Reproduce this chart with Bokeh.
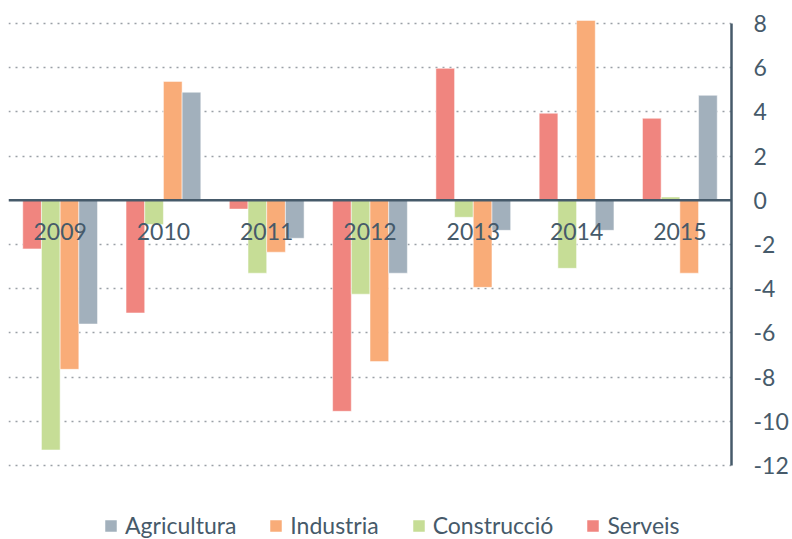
from bokeh.plotting import figure
from bokeh.models import (ColumnDataSource, FactorRange, Range1d, FixedTicker, Span,
                          Legend, LegendItem, LinearAxis, NumeralTickFormatter)
from bokeh.transform import dodge
from bokeh.core.properties import value
from bokeh.embed import file_html
from bokeh.resources import INLINE

years = ["2009", "2010", "2011", "2012", "2013", "2014", "2015"]
serveis = [-2.2, -5.1, -0.4, -9.55, 5.97, 3.94, 3.71]
construccio = [-11.3, -1.1, -3.3, -4.25, -0.77, -3.08, 0.15]
industria = [-7.65, 5.38, -2.35, -7.3, -3.94, 8.14, -3.3]
agricultura = [-5.6, 4.89, -1.72, -3.3, -1.36, -1.36, 4.75]
y_ticks = [-12, -10, -8, -6, -4, -2, 0, 2, 4, 6, 8]

series_names = ["Serveis", "Construcció", "Industria", "Agricultura"]
colors = {"Serveis": "#f0857f", "Construcció": "#c6dd96",
          "Industria": "#f9ac78", "Agricultura": "#a2b0bc"}
text_color = "#465a6a"
FONT = "Lato"

src = ColumnDataSource(dict(years=years, Serveis=serveis, Construccio=construccio,
                            Industria=industria, Agricultura=agricultura,
                            label_y=[-1.4] * len(years)))
cols = {"Serveis": "Serveis", "Construcció": "Construccio",
        "Industria": "Industria", "Agricultura": "Agricultura"}

p = figure(width=792, height=539, output_backend="svg", toolbar_location=None,
           x_range=FactorRange(factors=years, range_padding=0),
           y_range=Range1d(-15.35, 9.04),
           x_axis_location=None, y_axis_location=None,
           min_border_left=8, min_border_right=61, min_border_top=0, min_border_bottom=0)
p.outline_line_color = None
p.background_fill_color = "white"
p.border_fill_color = "white"

w = 0.181
offsets = [-1.5 * w, -0.5 * w, 0.5 * w, 1.5 * w]
renderers = {}
for name, off in zip(series_names, offsets):
    r = p.vbar(x=dodge("years", off, range=p.x_range), top=cols[name], bottom=0, width=w,
               source=src, fill_color=colors[name], line_color="white", line_width=1,
               line_alpha=0.5)
    renderers[name] = r

# year labels inside plot
p.text(x="years", y="label_y", text="years", source=src, text_align="center",
       text_baseline="middle", text_font=value(FONT), text_font_size="23px",
       text_color=text_color)

# y axis on the right
ax = LinearAxis(ticker=FixedTicker(ticks=y_ticks), bounds=(-12, 8),
                formatter=NumeralTickFormatter(format="0"))
ax.axis_line_color = text_color
ax.axis_line_width = 2.5
ax.major_tick_line_color = None
ax.major_tick_in = 0
ax.major_tick_out = 0
ax.minor_tick_line_color = None
ax.minor_tick_in = 0
ax.minor_tick_out = 0
ax.major_label_text_font = FONT
ax.major_label_text_font_size = "23px"
ax.major_label_text_color = text_color
ax.major_label_standoff = 22
p.add_layout(ax, "right")

p.xgrid.grid_line_color = None
p.ygrid.ticker = FixedTicker(ticks=[t for t in y_ticks if t != 0])
p.ygrid.grid_line_color = "#9aa0a6"
p.ygrid.grid_line_dash = "2 5"
p.ygrid.grid_line_width = 1.5

p.add_layout(Span(location=0, dimension="width", line_color=text_color, line_width=2.5))

legend = Legend(items=[LegendItem(label=n, renderers=[renderers[n]])
                       for n in ["Agricultura", "Industria", "Construcció", "Serveis"]],
                orientation="horizontal", location=(95, 0))
legend.glyph_width = 15
legend.glyph_height = 15
legend.label_standoff = 7
legend.spacing = 32
legend.padding = 4
legend.margin = 0
legend.label_text_font = FONT
legend.label_text_font_size = "23px"
legend.label_text_color = text_color
legend.border_line_color = None
legend.background_fill_alpha = 0
p.add_layout(legend)

open("out.html", "w").write(file_html(p, INLINE))
